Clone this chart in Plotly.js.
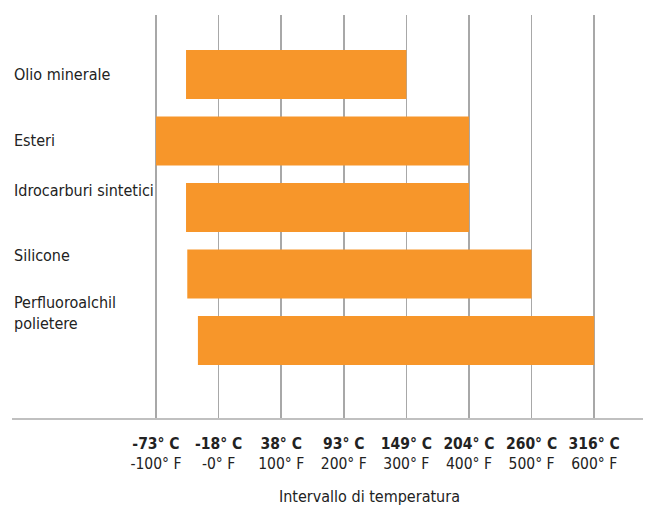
<!DOCTYPE html>
<html>
<head>
<meta charset="utf-8">
<script src="https://cdn.plot.ly/plotly-3.0.1.min.js"></script>
<style>html,body{margin:0;padding:0;background:#fff;}#chart{width:645px;height:510px;}</style>
</head>
<body>
<div id="chart"></div>
<script>
// Data
var categories = ["Olio minerale", "Esteri", "Idrocarburi sintetici", "Silicone", "Perfluoroalchil<br>polietere"];
var minF = [-52, -100, -52, -50, -33];
var maxF = [300, 400, 400, 500, 600];
var tickF = [-100, 0, 100, 200, 300, 400, 500, 600];
var tickC = ["-73° C", "-18° C", "38° C", "93° C", "149° C", "204° C", "260° C", "316° C"];
var tickFLabels = ["-100° F", "-0° F", "100° F", "200° F", "300° F", "400° F", "500° F", "600° F"];
var xTitle = "Intervallo di temperatura";

var FONT = "'DejaVu Sans Condensed', 'Liberation Sans Narrow', sans-serif";
var idx = categories.map(function(_, i){ return i; });
var labelOffset = [0, -0.01, -0.26, -0.28, -0.42];

var trace = {
  type: 'bar',
  orientation: 'h',
  y: idx,
  base: minF,
  x: maxF.map(function(v, i){ return v - minF[i]; }),
  width: 0.737,
  marker: {color: '#F7962A', line: {width: 0}},
  hoverinfo: 'none'
};

var annotations = categories.map(function(c, i){
  return {
    xref: 'paper', yref: 'y', x: 0, y: i + labelOffset[i],
    xanchor: 'left', yanchor: 'middle', align: 'left',
    text: c, showarrow: false,
    font: {family: FONT, size: 16, color: '#222'}
  };
});
annotations.push({
  xref: 'paper', yref: 'paper', x: 0.566, y: -0.196,
  xanchor: 'center', yanchor: 'middle',
  text: xTitle, showarrow: false,
  font: {family: FONT, size: 16, color: '#222'}
});

var layout = {
  width: 645, height: 510,
  margin: {l: 12, r: 2, t: 15, b: 92},
  paper_bgcolor: '#fff', plot_bgcolor: '#fff',
  showlegend: false,
  font: {family: FONT, size: 16, color: '#222'},
  xaxis: {
    range: [-330, 678],
    tickvals: tickF,
    ticktext: tickF.map(function(v, i){ return '<b>' + tickC[i] + '</b><br>' + tickFLabels[i]; }),
    showgrid: true, gridcolor: '#a8a8a8', gridwidth: 1.5,
    zeroline: false,
    showline: true, linecolor: '#c0c0c0', linewidth: 2,
    ticks: '', ticklabelstandoff: 10,
    tickfont: {family: FONT, size: 15.5, color: '#222'},
    fixedrange: true
  },
  yaxis: {
    range: [5.165, -0.895],
    showgrid: false, zeroline: false, showticklabels: false, showline: false, ticks: '',
    fixedrange: true
  },
  annotations: annotations
};

Plotly.newPlot('chart', [trace], layout, {displayModeBar: false, staticPlot: true});
</script>
</body>
</html>
